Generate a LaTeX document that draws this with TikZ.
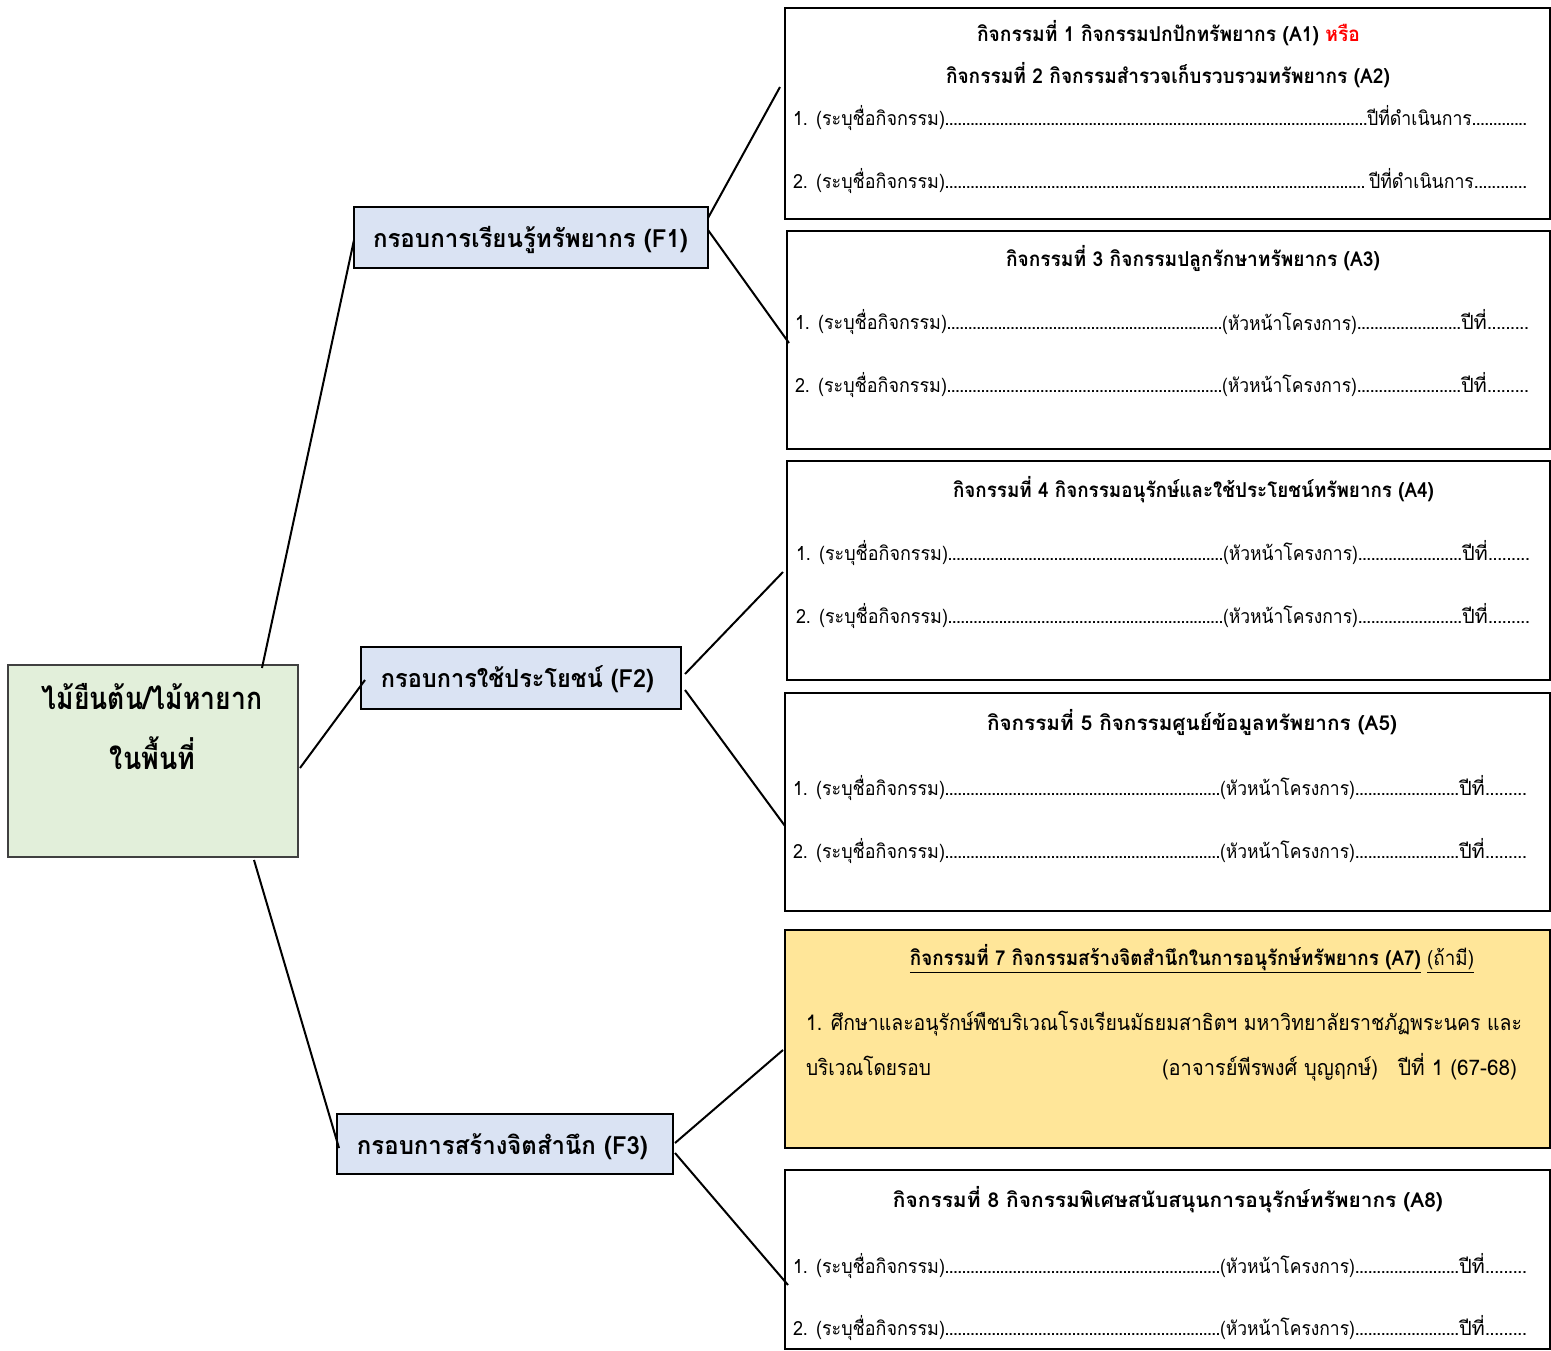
\documentclass[tikz,border=0pt]{standalone}
\usepackage{fontspec}
\usepackage{graphicx}
\setmainfont{Loma}[Script=Thai]
\usetikzlibrary{calc}
\definecolor{rootfill}{HTML}{E2EFDA}
\definecolor{ffill}{HTML}{DAE3F3}
\definecolor{afill}{HTML}{FFE699}
\newcommand\fitw[2]{\resizebox{#1}{\height}{#2}}
\newcommand\dfill{\xleaders\hbox to 4.2pt{\hss.\hss}\hskip 0pt plus 1filll\relax}
\newcommand\isz{\fontsize{19.5}{23}\selectfont}
\newcommand\tsz{\fontsize{20.5}{24}\selectfont\bfseries}
\newcommand\leadline[1]{\hbox to 734pt{\hbox to 427pt{\fitw{152pt}{#1. (ระบุชื่อกิจกรรม)}\dfill}\hbox to 239pt{\fitw{135pt}{(หัวหน้าโครงการ)}\dfill}\hbox to 68pt{\fitw{26pt}{ปีที่}\dfill}}}
\begin{document}
\begin{tikzpicture}[x=1pt,y=-1pt,
  box/.style={draw=black,line width=1.7pt,rectangle,inner sep=0pt,outer sep=0pt,anchor=north west},
  abox/.style={box,fill=white},
  fbox/.style={box,fill=ffill},
  rbox/.style={box,fill=rootfill,draw=black!75},
  ybox/.style={box,fill=afill},
  txt/.style={inner sep=0pt,outer sep=0pt},
  conn/.style={line width=2pt}]
\useasboundingbox[fill=white] (0,0) rectangle (1551,1351);
% boxes
\node[rbox,minimum width=290pt,minimum height=192pt] (root) at (8,665) {};
\node[fbox,minimum width=354pt,minimum height=61pt] (F1) at (354,207) {};
\node[fbox,minimum width=320pt,minimum height=62pt] (F2) at (361,647) {};
\node[fbox,minimum width=336pt,minimum height=60pt] (F3) at (337,1114) {};
\node[abox,minimum width=765pt,minimum height=211pt] (A1) at (785,8) {};
\node[abox,minimum width=763pt,minimum height=218pt] (A3) at (787,231) {};
\node[abox,minimum width=763pt,minimum height=219pt] (A4) at (787,461) {};
\node[abox,minimum width=765pt,minimum height=218pt] (A5) at (785,693) {};
\node[ybox,minimum width=765pt,minimum height=218pt] (A7) at (785,930) {};
\node[abox,minimum width=765pt,minimum height=179pt] (A8) at (785,1170) {};
% root and framework texts
\node[txt,anchor=base] (rootl1) at (152,709) {\fontsize{31}{36}\selectfont\bfseries\fitw{220pt}{ไม้ยืนต้น/ไม้หายาก}};
\node[txt,anchor=base] (rootl2) at (152.5,769) {\fontsize{31}{36}\selectfont\bfseries\fitw{85pt}{ในพื้นที่}};
\node[txt,anchor=base] (F1t) at (530.5,248) {\fontsize{25}{29}\selectfont\bfseries\fitw{315pt}{กรอบการเรียนรู้ทรัพยากร (F1)}};
\node[txt,anchor=base] (F2t) at (517.5,687) {\fontsize{25}{29}\selectfont\bfseries\fitw{273pt}{กรอบการใช้ประโยชน์ (F2)}};
\node[txt,anchor=base] (F3t) at (502.5,1154) {\fontsize{25}{29}\selectfont\bfseries\fitw{291pt}{กรอบการสร้างจิตสำนึก (F3)}};
% A1 / A2
\node[txt,anchor=base] (A1t1) at (1168.5,42) {\tsz\fitw{383pt}{กิจกรรมที่ 1 กิจกรรมปกปักทรัพยากร (A1) \textcolor{red}{หรือ}}};
\node[txt,anchor=base] (A1t2) at (1168,84) {\tsz\fitw{444pt}{กิจกรรมที่ 2 กิจกรรมสำรวจเก็บรวบรวมทรัพยากร (A2)}};
\node[txt,anchor=base west] (A1i1) at (793,126) {\isz\hbox to 734pt{\hbox to 574pt{\fitw{152pt}{1. (ระบุชื่อกิจกรรม)}\dfill}\hbox to 160pt{\fitw{105pt}{ปีที่ดำเนินการ}\dfill}}};
\node[txt,anchor=base west] (A1i2) at (793,189) {\isz\hbox to 734pt{\hbox to 572pt{\fitw{152pt}{2. (ระบุชื่อกิจกรรม)}\dfill}\hbox to 162pt{\hskip 4pt\fitw{105pt}{ปีที่ดำเนินการ}\dfill}}};
% A3
\node[txt,anchor=base] (A3t) at (1193,267) {\tsz\fitw{374pt}{กิจกรรมที่ 3 กิจกรรมปลูกรักษาทรัพยากร (A3)}};
\node[txt,anchor=base west] (A3i1) at (795,330) {\isz\leadline{1}};
\node[txt,anchor=base west] (A3i2) at (795,392) {\isz\leadline{2}};
% A4
\node[txt,anchor=base] (A4t) at (1193.5,497) {\tsz\fitw{481pt}{กิจกรรมที่ 4 กิจกรรมอนุรักษ์และใช้ประโยชน์ทรัพยากร (A4)}};
\node[txt,anchor=base west] (A4i1) at (796,560) {\isz\leadline{1}};
\node[txt,anchor=base west] (A4i2) at (796,623) {\isz\leadline{2}};
% A5
\node[txt,anchor=base] (A5t) at (1192,730) {\tsz\fitw{410pt}{กิจกรรมที่ 5 กิจกรรมศูนย์ข้อมูลทรัพยากร (A5)}};
\node[txt,anchor=base west] (A5i1) at (793,795) {\isz\leadline{1}};
\node[txt,anchor=base west] (A5i2) at (793,858) {\isz\leadline{2}};
% A7
\node[txt,anchor=base] (A7t) at (1192,965) {\fontsize{20.5}{24}\selectfont\fitw{564pt}{\underline{\textbf{กิจกรรมที่ 7 กิจกรรมสร้างจิตสำนึกในการอนุรักษ์ทรัพยากร (A7)}\rule[-6pt]{0pt}{1pt}} \underline{(ถ้ามี)\rule[-6pt]{0pt}{1pt}}}};
\node[txt,anchor=base west] (A7b1) at (806,1030) {\fontsize{21.5}{25}\selectfont\fitw{716pt}{1. ศึกษาและอนุรักษ์พืชบริเวณโรงเรียนมัธยมสาธิตฯ มหาวิทยาลัยราชภัฏพระนคร และ}};
\node[txt,anchor=base west] (A7b2) at (806,1075) {\fontsize{21.5}{25}\selectfont\fitw{125pt}{บริเวณโดยรอบ}};
\node[txt,anchor=base west] (A7b3) at (1162,1075) {\fontsize{21.5}{25}\selectfont\fitw{216pt}{(อาจารย์พีรพงศ์ บุญฤกษ์)}};
\node[txt,anchor=base west] (A7b4) at (1398,1075) {\fontsize{21.5}{25}\selectfont\fitw{119pt}{ปีที่ 1 (67-68)}};
% A8
\node[txt,anchor=base] (A8t) at (1168,1207) {\tsz\fitw{550pt}{กิจกรรมที่ 8 กิจกรรมพิเศษสนับสนุนการอนุรักษ์ทรัพยากร (A8)}};
\node[txt,anchor=base west] (A8i1) at (793,1273) {\isz\leadline{1}};
\node[txt,anchor=base west] (A8i2) at (793,1335) {\isz\leadline{2}};
% connectors
\draw[conn] ($(root.north east)+(-36,3)$) -- ($(F1.north west)+(0,33)$);
\draw[conn] ($(root.north east)+(2,103)$) -- ($(F2.north west)+(4,33)$);
\draw[conn] ($(root.south east)+(-44,3)$) -- ($(F3.north west)+(2,34)$);
\draw[conn] ($(F1.north east)+(0,11)$) -- ($(A1.north west)+(-5,79)$);
\draw[conn] ($(F1.north east)+(0,23)$) -- ($(A3.north west)+(2,112)$);
\draw[conn] ($(F2.north east)+(4,27)$) -- ($(A4.north west)+(-4,111)$);
\draw[conn] ($(F2.north east)+(4,43)$) -- ($(A5.north west)+(0,133)$);
\draw[conn] ($(F3.north east)+(2,29)$) -- ($(A7.north west)+(-2,120)$);
\draw[conn] ($(F3.north east)+(2,39)$) -- ($(A8.north west)+(3,115)$);
\end{tikzpicture}
\end{document}
